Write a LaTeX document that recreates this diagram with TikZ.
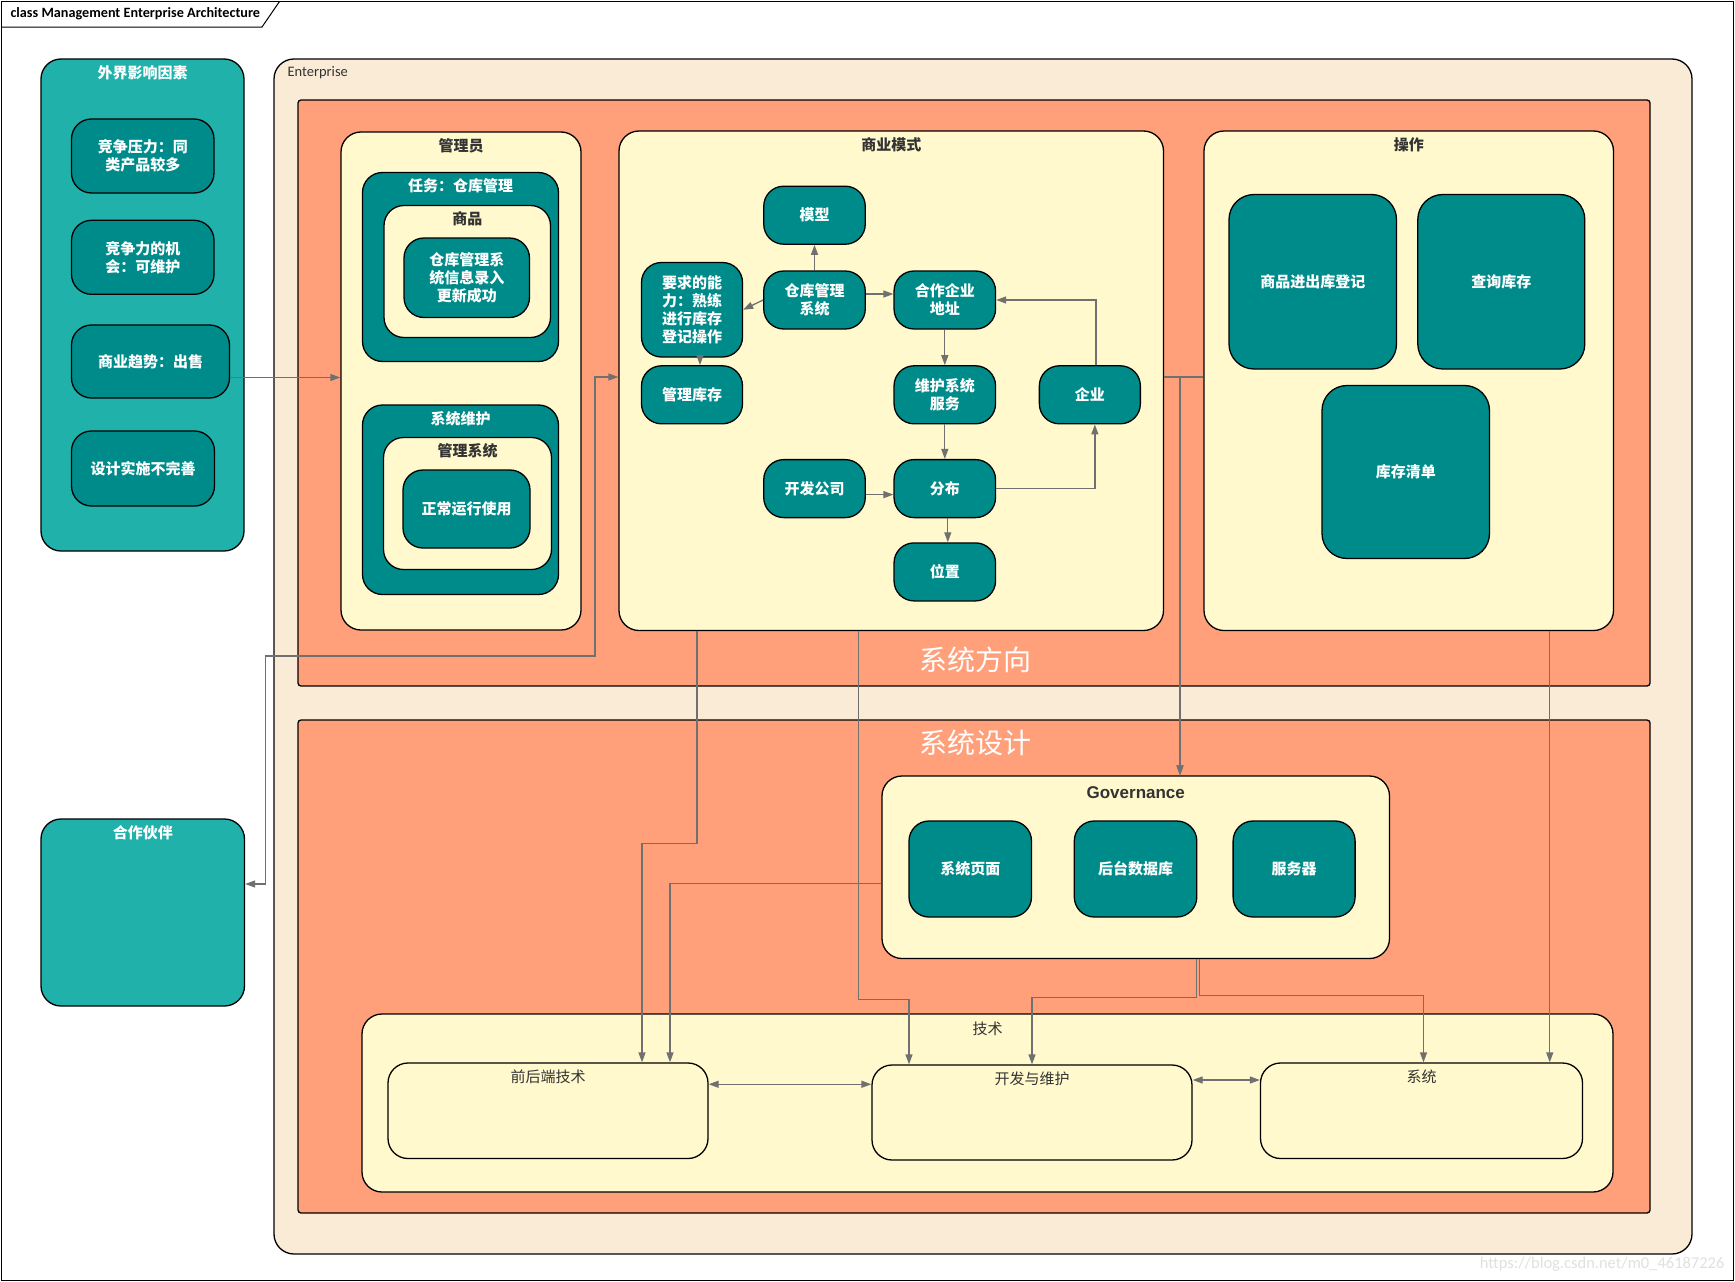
\documentclass[tikz,border=0pt]{standalone}
\usepackage{fontspec}
\setmainfont{Noto Sans CJK SC}
\newfontfamily\latinfont{Carlito}
\newfontfamily\arialfont{Liberation Sans}
\usetikzlibrary{arrows.meta, positioning}
\definecolor{seagreen}{HTML}{20B2AA}
\definecolor{darkteal}{HTML}{008B8B}
\definecolor{lemon}{HTML}{FFF9CD}
\definecolor{salmon}{HTML}{FFA07A}
\definecolor{antique}{HTML}{FAEBD7}
\definecolor{linegray}{HTML}{707070}
\definecolor{titlegray}{HTML}{333333}
\tikzstyle{roundbox}=[draw=black, line width=1.3pt, rounded corners=20pt, inner sep=0pt, align=center]
\tikzstyle{tealbox}=[roundbox, fill=darkteal, text=white, font=\bfseries\fontsize{15}{18}\selectfont]
\tikzstyle{seabox}=[roundbox, fill=seagreen]
\tikzstyle{lemonbox}=[roundbox, fill=lemon]
\tikzstyle{salmonbox}=[roundbox, fill=salmon, rounded corners=3pt]
\tikzstyle{ttl}=[anchor=center, yshift=-14pt, text=titlegray, font=\bfseries\fontsize{15}{18}\selectfont]
\tikzstyle{wttl}=[ttl, text=white]
\tikzstyle{nttl}=[ttl, font=\fontsize{15}{18}\selectfont]
\tikzstyle{conn}=[draw=linegray, line width=1.3pt, -{Triangle[length=10pt,width=7pt]}]
\tikzstyle{biconn}=[conn, {Triangle[length=10pt,width=7pt]}-{Triangle[length=10pt,width=7pt]}]
\tikzstyle{bigtext}=[text=white, font=\fontsize{28}{30}\selectfont]

\begin{document}
\begin{tikzpicture}[x=1pt, y=-1pt]
    \useasboundingbox (0,0) rectangle (1735,1282);
    % diagram frame
    \draw[line width=1pt] (1.5,1.5) rectangle (1733.5,1280.5);
    \draw[line width=1pt] (1.5,27) -- (262,27) -- (279.5,1.5);
    \node[anchor=west, font=\latinfont\bfseries\fontsize{14.2}{16}\selectfont] (frame) at (7,14) {class Management Enterprise Architecture};
    \node[anchor=east, text=black!12, font=\latinfont\fontsize{16.5}{18}\selectfont] (mark) at (1728,1264) {https://blog.csdn.net/m0\_46187226};

    % external factors
    \node[seabox, minimum width=203pt, minimum height=492pt, label={[wttl]north:外界影响因素}] (ext) at (142.5,305) {};
    \node[tealbox, minimum width=142.5pt, minimum height=74pt] (f1) at (142.75,156) {竞争压力：同\\类产品较多};
    \node[tealbox, minimum width=142.5pt, minimum height=74pt] (f2) [below=26pt of f1] {竞争力的机\\会：可维护};
    \node[tealbox, minimum width=158pt, minimum height=73pt] (f3) at (150.5,361.5) {商业趋势：出售};
    \node[tealbox, minimum width=143pt, minimum height=75pt] (f4) at (143,468.5) {设计实施不完善};
    \node[seabox, minimum width=203.5pt, minimum height=187pt, label={[wttl]north:合作伙伴}] (partner) at (142.75,912.5) {};

    % enterprise
    \node[roundbox, fill=antique, minimum width=1418pt, minimum height=1195pt] (ent) at (983,656.5) {};
    \node[anchor=west, text=titlegray, font=\latinfont\fontsize{14.5}{16}\selectfont] (entlbl) at (284,73) {Enterprise};
    \node[salmonbox, minimum width=1352pt, minimum height=586pt] (dir) at (974,393) {};
    \node[bigtext] (dirlbl) at (975,660) {系统方向};
    \node[salmonbox, minimum width=1352pt, minimum height=493pt] (des) at (974,966.5) {};
    \node[bigtext] (deslbl) at (975,743) {系统设计};

    % manager
    \node[lemonbox, minimum width=240pt, minimum height=498pt, label={[ttl]north:管理员}] (mgr) at (461,381) {};
    \node[tealbox, minimum width=196pt, minimum height=189pt, label={[wttl]north:任务：仓库管理}] (task) at (460.5,267) {};
    \node[lemonbox, minimum width=166.5pt, minimum height=132pt, label={[ttl]north:商品}] (goods) at (467.25,271.5) {};
    \node[tealbox, minimum width=125.5pt, minimum height=79.5pt] (entry) at (466.75,277.75) {仓库管理系\\统信息录入\\更新成功};
    \node[tealbox, minimum width=196pt, minimum height=189.5pt, label={[wttl]north:系统维护}] (maint) at (460.5,499.75) {};
    \node[lemonbox, minimum width=168pt, minimum height=132pt, label={[ttl]north:管理系统}] (msys) at (467.5,503.5) {};
    \node[tealbox, minimum width=127pt, minimum height=78pt] (normal) at (466.5,509) {正常运行使用};

    % business model
    \node[lemonbox, minimum width=544.5pt, minimum height=499.5pt, label={[ttl]north:商业模式}] (biz) at (891.25,380.75) {};
    \node[tealbox, minimum width=101.5pt, minimum height=58pt] (wms) at (814.5,300) {仓库管理\\系统};
    \node[tealbox, minimum width=101.5pt, minimum height=58pt] (model) [above=25.5pt of wms] {模型};
    \node[tealbox, minimum width=101.5pt, minimum height=58pt] (paddr) [right=27.5pt of wms] {合作企业\\地址};
    \node[tealbox, minimum width=101pt, minimum height=94.5pt] (req) at (692,309.75) {要求的能\\力：熟练\\进行库存\\登记操作};
    \node[tealbox, minimum width=101pt, minimum height=58pt] (inv) [below=7.5pt of req] {管理库存};
    \node[tealbox, minimum width=101.5pt, minimum height=58pt] (svc) [below=35.5pt of paddr] {维护系统\\服务};
    \node[tealbox, minimum width=101pt, minimum height=58pt] (corp) [right=42.5pt of svc] {企业};
    \node[tealbox, minimum width=101.5pt, minimum height=58pt] (dist) [below=34.5pt of svc] {分布};
    \node[tealbox, minimum width=101.5pt, minimum height=58pt] (dev) [left=27.5pt of dist] {开发公司};
    \node[tealbox, minimum width=101.5pt, minimum height=58pt] (loc) [below=24pt of dist] {位置};

    \draw[conn] (wms) -- (model);
    \draw[conn] (wms.west) -- (req.east);
    \draw[conn] ([yshift=6pt]wms.east) -- ([yshift=6pt]paddr.west);
    \draw[conn] ([xshift=8pt]req.south) -- ([xshift=8pt]inv.north);
    \draw[conn] (paddr) -- (svc);
    \draw[conn] (svc) -- (dist);
    \draw[conn] ([yshift=-6pt]dev.east) -- ([yshift=-6pt]dist.west);
    \draw[conn] ([xshift=3pt]dist.south) -- ([xshift=3pt]loc.north);
    \draw[conn] (dist.east) -| ([xshift=5pt]corp.south);
    \draw[conn] ([xshift=6pt]corp.north) |- (paddr.east);

    % operations
    \node[lemonbox, minimum width=409.5pt, minimum height=499.5pt, label={[ttl]north:操作}] (ops) at (1408.75,380.75) {};
    \node[tealbox, rounded corners=25pt, minimum width=167.5pt, minimum height=174.5pt] (reg) at (1312.75,281.75) {商品进出库登记};
    \node[tealbox, rounded corners=25pt, minimum width=167pt, minimum height=174.5pt] (query) [right=20pt of reg] {查询库存};
    \node[tealbox, rounded corners=25pt, minimum width=167.5pt, minimum height=173pt] (list) at (1405.75,472) {库存清单};

    % governance
    \node[lemonbox, minimum width=507.5pt, minimum height=182.5pt, label={[ttl, yshift=-3pt, font=\arialfont\bfseries\fontsize{17}{20}\selectfont]north:Governance}] (gov) at (1135.75,867.25) {};
    \node[tealbox, minimum width=122.5pt, minimum height=96pt] (page) at (970.25,869) {系统页面};
    \node[tealbox, minimum width=122.5pt, minimum height=96pt] (db) [right=41.5pt of page] {后台数据库};
    \node[tealbox, minimum width=122pt, minimum height=96pt] (server) [right=35pt of db] {服务器};

    % technology
    \node[lemonbox, minimum width=1251pt, minimum height=178pt, label={[nttl, yshift=-1pt]north:技术}] (tech) at (987.5,1103) {};
    \node[lemonbox, minimum width=320pt, minimum height=95.5pt, label={[nttl]north:前后端技术}] (fe) at (548,1110.75) {};
    \node[lemonbox, minimum width=320pt, minimum height=95pt, label={[nttl]north:开发与维护}] (dm) at (1032,1112.5) {};
    \node[lemonbox, minimum width=322pt, minimum height=95.5pt, label={[nttl]north:系统}] (sys) at (1421.5,1110.75) {};

    \coordinate (e3) at ([yshift=26.5pt]fe.east);
    \draw[biconn] (e3) -- (e3 -| dm.west);
    \coordinate (d2) at ([yshift=32.5pt]dm.east);
    \draw[biconn] (d2) -- (d2 -| sys.west);

    % long connectors
    \coordinate (a1) at ([yshift=-16pt]f3.east);
    \draw[conn] (a1) -- (a1 -| mgr.west);
    \coordinate (b1) at ([yshift=3.75pt]biz.west);
    \coordinate (b2) at ([yshift=28.5pt]partner.east);
    \draw[biconn] (b1) -| (595,656) -| (265.5,884) -- (b2);
    \coordinate (g1) at ([xshift=44.25pt]gov.north);
    \coordinate (o1) at ([yshift=3.75pt]ops.west);
    \coordinate (b3) at ([yshift=3.75pt]biz.east);
    \draw[conn] (o1) -| (g1);
    \draw[conn] (b3) -| (g1);
    \coordinate (b4) at ([xshift=-194.25pt]biz.south);
    \coordinate (e1) at ([xshift=94pt]fe.north);
    \draw[conn] (b4) -- ++(0,212.5) -| (e1);
    \coordinate (g2) at ([yshift=-16pt]gov.west);
    \coordinate (e2) at ([xshift=122pt]fe.north);
    \draw[conn] (g2) -| (e2);
    \coordinate (b5) at ([xshift=-32.75pt]biz.south);
    \coordinate (d1) at ([xshift=-123pt]dm.north);
    \draw[conn] (b5) -- ++(0,368.5) -| (d1);
    \coordinate (g3) at ([xshift=60.5pt]gov.south);
    \draw[conn] (g3) -- ++(0,38) -| (dm.north);
    \coordinate (g4) at ([xshift=63.5pt]gov.south);
    \coordinate (s1) at ([xshift=2pt]sys.north);
    \draw[conn] (g4) -- ++(0,36.5) -| (s1);
    \coordinate (o2) at ([xshift=141pt]ops.south);
    \draw[conn] (o2) -- (o2 |- sys.north);
\end{tikzpicture}
\end{document}
